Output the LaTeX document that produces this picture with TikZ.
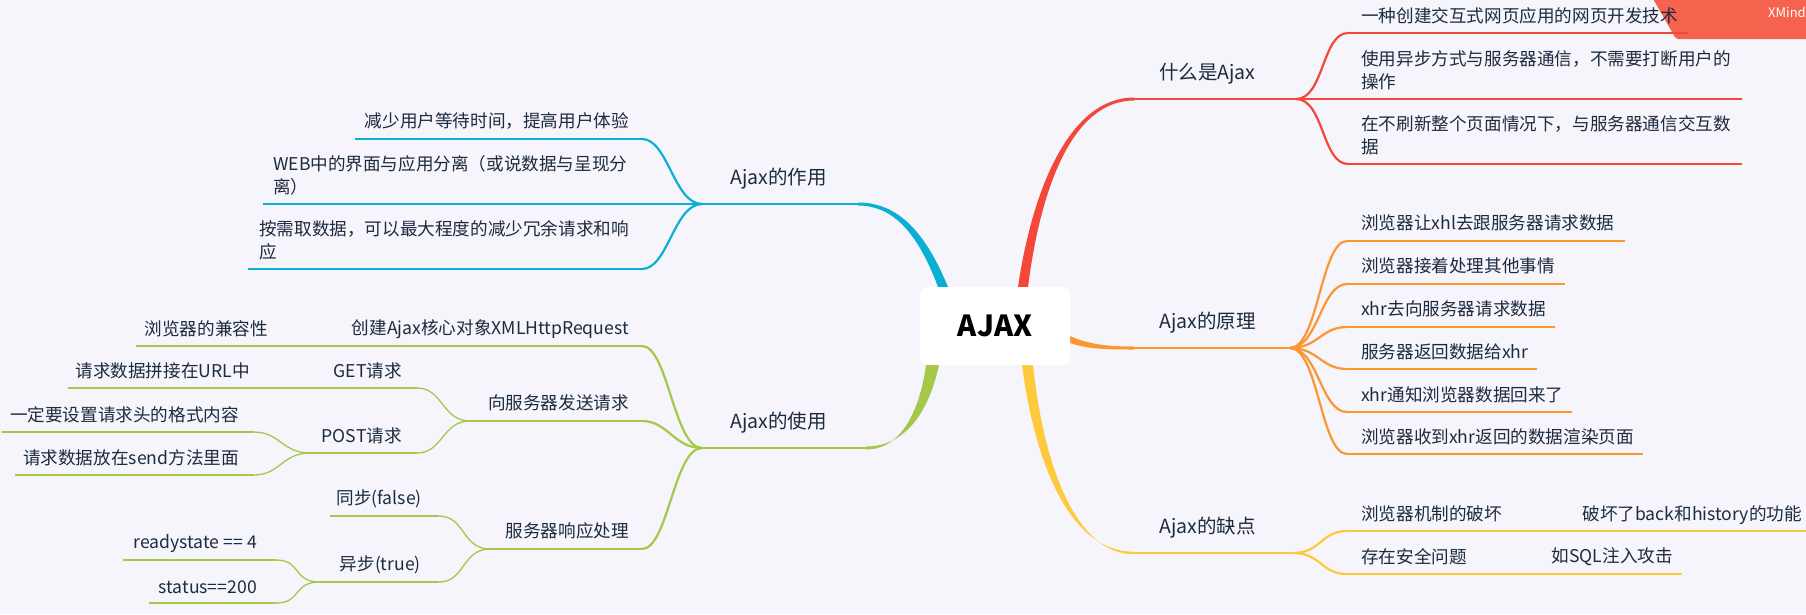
\documentclass[tikz,border=0pt]{standalone}
\usepackage{fontspec}
\setmainfont{Noto Sans CJK SC}
\definecolor{bgc}{HTML}{F5F5FB}
\definecolor{inkc}{HTML}{1D2B3F}
\definecolor{redc}{HTML}{F4473A}
\definecolor{orac}{HTML}{FC9630}
\definecolor{yelc}{HTML}{FFC93C}
\definecolor{bluc}{HTML}{0BAFD3}
\definecolor{grec}{HTML}{A5C84A}
\definecolor{ribc}{HTML}{F5624E}
\tikzset{
  leaf/.style={inner sep=0pt,text=inkc,align=left,font=\fontsize{17.6}{23}\selectfont},
  topic/.style={inner sep=0pt,text=inkc,font=\fontsize{19.5}{24}\selectfont},
  thick line/.style={line width=2.5pt,line cap=butt},
  thin line/.style={line width=1.3pt,line cap=butt},
  curve line/.style={line width=2.2pt,line cap=round},
  curve thin/.style={line width=1.3pt,line cap=round},
  jl/.style={to path={.. controls +(-28,0) and +(26,0) .. (\tikztotarget)}},
  jr/.style={to path={.. controls +(28,0) and +(-26,0) .. (\tikztotarget)}}
}
\begin{document}
\begin{tikzpicture}[x=1pt,y=-1pt]
\useasboundingbox (0,0) rectangle (1806,614);
\fill[bgc] (0,0) rectangle (1806,614);

% ribbon (under the text and lines)
\fill[ribc,rounded corners=2pt] (1652,-3) -- (1676,39) -- (1809,39) -- (1809,-3) -- cycle;

% coordinates of the junctions and line ends
\coordinate (rM) at (1134,99); \coordinate (rJ) at (1296,99); \coordinate (rE) at (1742,99);
\coordinate (oM) at (1134,348); \coordinate (oJ) at (1290,348);
\coordinate (yM) at (1134,553); \coordinate (yJ) at (1293,553);
\coordinate (bM) at (858,204); \coordinate (bJ) at (702,204); \coordinate (bE) at (263,204);
\coordinate (gM) at (866,448); \coordinate (gJ) at (702,448);

% main tapered branches
\fill[redc] (1018,287) .. controls (1032,191) and (1069,97.5) .. (1134,97.5) -- (1134,100.5) .. controls (1071,100.5) and (1040,192) .. (1028,287) -- cycle;
\fill[orac] (1070,336) .. controls (1090,345) and (1110,346.5) .. (1134,346.5) -- (1134,349.5) .. controls (1105,349.5) and (1088,349) .. (1070,343) -- cycle;
\fill[yelc] (1022,365) .. controls (1036,471) and (1073,551.8) .. (1134,551.8) -- (1134,554.2) .. controls (1077,554.2) and (1044,469) .. (1033,365) -- cycle;
\fill[bluc] (948,287) .. controls (923,226) and (894,202.5) .. (858,202.5) -- (858,205.5) .. controls (890,205.5) and (916,228) .. (938,287) -- cycle;
\fill[grec] (939,365) .. controls (929,411) and (906,446.5) .. (866,446.5) -- (866,449.5) .. controls (902,449.5) and (920,409) .. (926,365) -- cycle;

% red
\draw[redc,thick line] (rM) -- (rJ) -- (rE);
\coordinate (r1L) at (1348,33); \coordinate (r1E) at (1688,33);
\coordinate (r3L) at (1348,164); \coordinate (r3E) at (1742,164);
\draw[redc,curve line] (rJ) to[jr] (r1L);
\draw[redc,thick line] (r1L) -- (r1E);
\draw[redc,curve line] (rJ) to[jr] (r3L);
\draw[redc,thick line] (r3L) -- (r3E);

% orange
\draw[orac,thick line] (oM) -- (oJ);
\coordinate (o1L) at (1347,241); \coordinate (o1E) at (1625,241);
\coordinate (o2L) at (1347,284); \coordinate (o2E) at (1565,284);
\coordinate (o3L) at (1347,327); \coordinate (o3E) at (1555,327);
\coordinate (o4L) at (1347,369); \coordinate (o4E) at (1537,369);
\coordinate (o5L) at (1347,412); \coordinate (o5E) at (1572,412);
\coordinate (o6L) at (1347,454); \coordinate (o6E) at (1643,454);
\draw[orac,curve line] (oJ) to[jr] (o1L);
\draw[orac,thick line] (o1L) -- (o1E);
\draw[orac,curve line] (oJ) to[jr] (o2L);
\draw[orac,thick line] (o2L) -- (o2E);
\draw[orac,curve line] (oJ) to[jr] (o3L);
\draw[orac,thick line] (o3L) -- (o3E);
\draw[orac,curve line] (oJ) to[jr] (o4L);
\draw[orac,thick line] (o4L) -- (o4E);
\draw[orac,curve line] (oJ) to[jr] (o5L);
\draw[orac,thick line] (o5L) -- (o5E);
\draw[orac,curve line] (oJ) to[jr] (o6L);
\draw[orac,thick line] (o6L) -- (o6E);

% yellow
\draw[yelc,thick line] (yM) -- (yJ);
\coordinate (y1L) at (1347,531); \coordinate (y1M) at (1512,531); \coordinate (y1E) at (1806,531);
\coordinate (y2L) at (1347,574); \coordinate (y2M) at (1478,574); \coordinate (y2E) at (1682,574);
\draw[yelc,curve line] (yJ) to[jr] (y1L);
\draw[yelc,thick line] (y1L) -- (y1M);
\draw[yelc,thin line] (y1M) -- (y1E);
\draw[yelc,curve line] (yJ) to[jr] (y2L);
\draw[yelc,thick line] (y2L) -- (y2M);
\draw[yelc,thin line] (y2M) -- (y2E);

% blue
\draw[bluc,thick line] (bM) -- (bJ) -- (bE);
\coordinate (b1R) at (642,139); \coordinate (b1E) at (355,139);
\coordinate (b3R) at (642,269); \coordinate (b3E) at (248,269);
\draw[bluc,curve line] (bJ) to[jl] (b1R);
\draw[bluc,thick line] (b1R) -- (b1E);
\draw[bluc,curve line] (bJ) to[jl] (b3R);
\draw[bluc,thick line] (b3R) -- (b3E);

% green
\draw[grec,thick line] (gM) -- (gJ);
\coordinate (g1R) at (642,346); \coordinate (g1M) at (342,346); \coordinate (g1E) at (136,346);
\coordinate (g2R) at (642,421); \coordinate (g2M) at (470,421);
\coordinate (g3R) at (642,549); \coordinate (g3M) at (490,549);
\draw[grec,curve line] (gJ) to[jl] (g1R);
\draw[grec,thick line] (g1R) -- (g1M);
\draw[grec,thin line] (g1M) -- (g1E);
\draw[grec,curve line] (gJ) to[jl] (g2R);
\draw[grec,thick line] (g2R) -- (g2M);
\draw[grec,curve line] (gJ) to[jl] (g3R);
\draw[grec,thick line] (g3R) -- (g3M);

\coordinate (getR) at (417,388); \coordinate (getE) at (68,388);
\coordinate (posR) at (417,453); \coordinate (posJ) at (310,453);
\coordinate (p1R) at (254,432); \coordinate (p1E) at (2,432);
\coordinate (p2R) at (254,475); \coordinate (p2E) at (15,475);
\coordinate (tbR) at (439,516); \coordinate (tbE) at (330,516);
\coordinate (ybR) at (439,582); \coordinate (ybJ) at (320,582);
\coordinate (a1R) at (276,560); \coordinate (a1E) at (123,560);
\coordinate (a2R) at (276,603); \coordinate (a2E) at (149,603);
\draw[grec,curve thin] (g2M) to[jl] (getR);
\draw[grec,thin line] (getR) -- (getE);
\draw[grec,curve thin] (g2M) to[jl] (posR);
\draw[grec,thin line] (posR) -- (posJ);
\draw[grec,curve thin] (posJ) to[jl] (p1R);
\draw[grec,thin line] (p1R) -- (p1E);
\draw[grec,curve thin] (posJ) to[jl] (p2R);
\draw[grec,thin line] (p2R) -- (p2E);
\draw[grec,curve thin] (g3M) to[jl] (tbR);
\draw[grec,thin line] (tbR) -- (tbE);
\draw[grec,curve thin] (g3M) to[jl] (ybR);
\draw[grec,thin line] (ybR) -- (ybJ);
\draw[grec,curve thin] (ybJ) to[jl] (a1R);
\draw[grec,thin line] (a1R) -- (a1E);
\draw[grec,curve thin] (ybJ) to[jl] (a2R);
\draw[grec,thin line] (a2R) -- (a2E);

% centre
\node[fill=white,rounded corners=7pt,minimum width=150pt,minimum height=78pt,inner sep=0pt,text=black,font=\fontsize{29}{34}\selectfont\bfseries] (root) at (995,326) {AJAX};

% topics
\node[topic,anchor=west] (t1) at (1159,74) {什么是Ajax};
\node[topic,anchor=west] (t2) at (1159,323) {Ajax的原理};
\node[topic,anchor=west] (t3) at (1159,528) {Ajax的缺点};
\node[topic,anchor=west] (t4) at (730,179) {Ajax的作用};
\node[topic,anchor=west] (t5) at (730,423) {Ajax的使用};

% red leaves
\node[leaf,anchor=west] (r1) at (1361,16) {一种创建交互式网页应用的网页开发技术};
\node[leaf,anchor=west] (r2) at (1361,70) {使用异步方式与服务器通信，不需要打断用户的\\操作};
\node[leaf,anchor=west] (r3) at (1361,135.5) {在不刷新整个页面情况下，与服务器通信交互数\\据};

% orange leaves
\node[leaf,anchor=west] (o1) at (1361,223) {浏览器让xhl去跟服务器请求数据};
\node[leaf,anchor=west] (o2) at (1361,266) {浏览器接着处理其他事情};
\node[leaf,anchor=west] (o3) at (1361,309) {xhr去向服务器请求数据};
\node[leaf,anchor=west] (o4) at (1361,352) {服务器返回数据给xhr};
\node[leaf,anchor=west] (o5) at (1361,395) {xhr通知浏览器数据回来了};
\node[leaf,anchor=west] (o6) at (1361,437) {浏览器收到xhr返回的数据渲染页面};

% yellow leaves
\node[leaf,anchor=west] (y1) at (1361,514) {浏览器机制的破坏};
\node[leaf,anchor=east] (y1a) at (1802,515) {破坏了back和history的功能};
\node[leaf,anchor=west] (y2) at (1361,557) {存在安全问题};
\node[leaf,anchor=east] (y2a) at (1673,557) {如SQL注入攻击};

% blue leaves
\node[leaf,anchor=east] (b1) at (629,121) {减少用户等待时间，提高用户体验};
\node[leaf,anchor=west] (b2) at (273,175.5) {WEB中的界面与应用分离（或说数据与呈现分\\离）};
\node[leaf,anchor=west] (b3) at (259,240.5) {按需取数据，可以最大程度的减少冗余请求和响\\应};

% green leaves
\node[leaf,anchor=east] (g1) at (629,329) {创建Ajax核心对象XMLHttpRequest};
\node[leaf,anchor=east] (g1a) at (268,329) {浏览器的兼容性};
\node[leaf,anchor=east] (g2) at (629,403) {向服务器发送请求};
\node[leaf,anchor=east] (g21) at (402,371) {GET请求};
\node[leaf,anchor=east] (g21a) at (250,371) {请求数据拼接在URL中};
\node[leaf,anchor=east] (g22) at (402,436) {POST请求};
\node[leaf,anchor=east] (g22a) at (239,415) {一定要设置请求头的格式内容};
\node[leaf,anchor=east] (g22b) at (239,458) {请求数据放在send方法里面};
\node[leaf,anchor=east] (g3) at (629,531) {服务器响应处理};
\node[leaf,anchor=east] (g31) at (422,499) {同步(false)};
\node[leaf,anchor=east] (g32) at (421,565) {异步(true)};
\node[leaf,anchor=east] (g32a) at (257,544) {readystate == 4};
\node[leaf,anchor=east] (g32b) at (257,587) {status==200};

\node[inner sep=0pt,anchor=west,text=white,font=\fontsize{13}{15}\selectfont] (xm) at (1768,12) {XMind};
\end{tikzpicture}
\end{document}
